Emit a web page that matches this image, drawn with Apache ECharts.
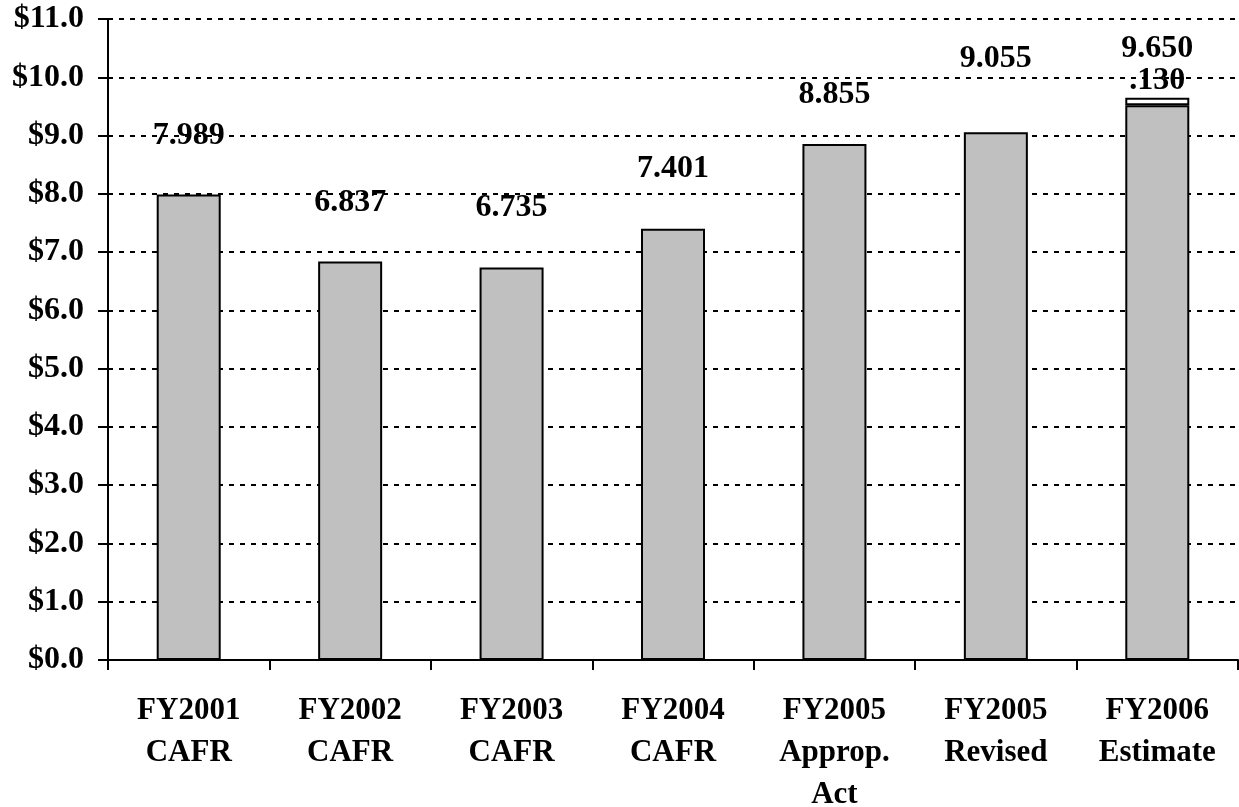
<!DOCTYPE html>
<html><head><meta charset="utf-8">
<script src="https://cdn.jsdelivr.net/npm/echarts@6/dist/echarts.min.js"></script>
<style>html,body{margin:0;padding:0;background:#fff}#c{width:1239px;height:807px}</style>
</head><body><div id="c"></div>
<script>
const categories = ['FY2001\nCAFR','FY2002\nCAFR','FY2003\nCAFR','FY2004\nCAFR','FY2005\nApprop.\nAct','FY2005\nRevised','FY2006\nEstimate'];
const baseValues = [7.989, 6.837, 6.735, 7.401, 8.855, 9.055, 9.520];
const addedValues = [0, 0, 0, 0, 0, 0, 0.130];
const totalValues = [7.989, 6.837, 6.735, 7.401, 8.855, 9.055, 9.650];
const yTicks = [0,1,2,3,4,5,6,7,8,9,10,11];

const FONT = '"Liberation Serif","Times New Roman",serif';
const labelGap = [43, 43, 44, 44, 33, 58, 33];

const chart = echarts.init(document.getElementById('c'), null, {renderer:'canvas'});
chart.setOption({
  animation:false,
  grid:{left:108,right:1,top:19,bottom:147,containLabel:false,outerBoundsMode:'none'},
  xAxis:{type:'category',data:categories,boundaryGap:true,
    axisLine:{lineStyle:{color:'#000',width:2}},
    axisTick:{show:true,alignWithLabel:false,length:10,lineStyle:{color:'#000',width:2}},
    axisLabel:{interval:0,margin:30,color:'#000',fontFamily:FONT,fontWeight:'bold',fontSize:31,lineHeight:42}
  },
  yAxis:{type:'value',min:yTicks[0],max:yTicks[yTicks.length-1],interval:1,
    axisLine:{show:true,lineStyle:{color:'#000',width:2}},
    axisTick:{show:true,length:10,lineStyle:{color:'#000',width:2}},
    splitLine:{show:true,lineStyle:{color:'#000',width:2,type:[5,6]}},
    axisLabel:{margin:24,color:'#000',fontFamily:FONT,fontWeight:'bold',fontSize:32,
      formatter:v=>'$'+v.toFixed(1)}
  },
  series:[
    {type:'bar',stack:'s',data:baseValues,barWidth:64,
      itemStyle:{color:'#C0C0C0',borderColor:'#000',borderWidth:2}},
    {type:'bar',stack:'s',data:addedValues.map(v=>v>0?v:null),barWidth:64,
      itemStyle:{color:'#fff',borderColor:'#000',borderWidth:2},
      label:{show:true,position:'top',distance:1,color:'#000',fontFamily:FONT,fontWeight:'bold',fontSize:32,
        formatter:p=>p.value.toFixed(3).replace(/^0/,'')}},
    {type:'scatter',symbolSize:0,z:10,itemStyle:{opacity:1},
      data:totalValues.map((v,i)=>({value:v,label:{distance:labelGap[i]}})),
      label:{show:true,position:'top',color:'#000',opacity:1,fontFamily:FONT,fontWeight:'bold',fontSize:32,
        formatter:p=>p.value.toFixed(3)}}
  ]
});
</script></body></html>
